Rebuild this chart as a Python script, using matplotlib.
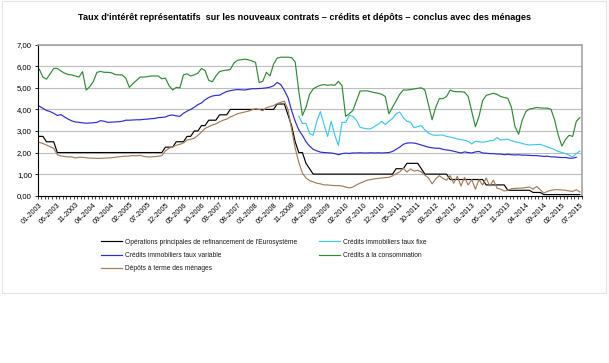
import numpy as np
import matplotlib
matplotlib.use("Agg")
import matplotlib.pyplot as plt
from matplotlib.patches import Rectangle

plt.rcParams['font.family'] = ['Liberation Sans', 'DejaVu Sans']

nan = np.nan

# Monthly categories 01-2003 .. 07-2015
months = [f"{m:02d}-{y}" for y in range(2003, 2016) for m in range(1, 13)][:151]
tick_labels = months[::5]

ecb_refi = [
    2.75, 2.75, 2.50, 2.50, 2.50, 2.00, 2.00, 2.00, 2.00, 2.00, 2.00, 2.00,
    2.00, 2.00, 2.00, 2.00, 2.00, 2.00, 2.00, 2.00, 2.00, 2.00, 2.00, 2.00,
    2.00, 2.00, 2.00, 2.00, 2.00, 2.00, 2.00, 2.00, 2.00, 2.00, 2.00, 2.25,
    2.25, 2.25, 2.50, 2.50, 2.50, 2.75, 2.75, 3.00, 3.00, 3.25, 3.25, 3.50,
    3.50, 3.50, 3.75, 3.75, 3.75, 4.00, 4.00, 4.00, 4.00, 4.00, 4.00, 4.00,
    4.00, 4.00, 4.00, 4.00, 4.00, 4.00, 4.25, 4.25, 4.25, 3.75, 3.25, 2.50,
    2.00, 2.00, 1.50, 1.25, 1.00, 1.00, 1.00, 1.00, 1.00, 1.00, 1.00, 1.00,
    1.00, 1.00, 1.00, 1.00, 1.00, 1.00, 1.00, 1.00, 1.00, 1.00, 1.00, 1.00,
    1.00, 1.00, 1.00, 1.25, 1.25, 1.25, 1.50, 1.50, 1.50, 1.50, 1.25, 1.00,
    1.00, 1.00, 1.00, 1.00, 1.00, 1.00, 0.75, 0.75, 0.75, 0.75, 0.75, 0.75,
    0.75, 0.75, 0.75, 0.75, 0.50, 0.50, 0.50, 0.50, 0.50, 0.50, 0.25, 0.25,
    0.25, 0.25, 0.25, 0.25, 0.25, 0.15, 0.15, 0.15, 0.05, 0.05, 0.05, 0.05,
    0.05, 0.05, 0.05, 0.05, 0.05, 0.05, 0.05,
]

immo_variable = [
    4.15, 4.05, 3.95, 3.90, 3.82, 3.72, 3.76, 3.65, 3.55, 3.47, 3.42, 3.40,
    3.38, 3.36, 3.37, 3.38, 3.40, 3.48, 3.45, 3.40, 3.41, 3.42, 3.43, 3.45,
    3.50, 3.50, 3.51, 3.52, 3.52, 3.54, 3.55, 3.57, 3.58, 3.62, 3.63, 3.65,
    3.72, 3.74, 3.70, 3.68, 3.82, 3.92, 4.00, 4.10, 4.22, 4.30, 4.45, 4.55,
    4.62, 4.65, 4.66, 4.75, 4.83, 4.87, 4.90, 4.92, 4.91, 4.90, 4.93, 4.96,
    4.96, 4.97, 4.98, 5.00, 5.03, 5.10, 5.25, 5.15, 4.88, 4.55, 3.95, 3.45,
    3.05, 2.80, 2.50, 2.30, 2.15, 2.08, 2.02, 2.00, 1.99, 1.98, 1.95, 1.90,
    1.95, 1.97, 1.96, 1.98, 1.98, 1.99, 1.98, 1.98, 1.99, 1.98, 1.99, 1.98,
    1.99, 2.00, 2.05, 2.15, 2.25, 2.38, 2.44, 2.45, 2.44, 2.40, 2.35, 2.30,
    2.25, 2.22, 2.20, 2.20, 2.15, 2.12, 2.10, 2.06, 2.02, 1.98, 2.03, 2.00,
    1.98, 2.03, 2.05, 1.98, 1.97, 1.95, 1.95, 1.93, 1.93, 1.90, 1.92, 1.90,
    1.89, 1.90, 1.88, 1.88, 1.87, 1.86, 1.86, 1.84, 1.82, 1.83, 1.80, 1.80,
    1.78, 1.77, 1.77, 1.74, 1.74, 1.78, nan,
]

immo_fixe = [
    nan, nan, nan, nan, nan, nan, nan, nan, nan, nan, nan, nan,
    nan, nan, nan, nan, nan, nan, nan, nan, nan, nan, nan, nan,
    nan, nan, nan, nan, nan, nan, nan, nan, nan, nan, nan, nan,
    nan, nan, nan, nan, nan, nan, nan, nan, nan, nan, nan, nan,
    nan, nan, nan, nan, nan, nan, nan, nan, nan, nan, nan, nan,
    nan, nan, nan, nan, nan, nan, nan, nan, nan, nan, nan, nan,
    3.68, 3.35, 3.35, 2.88, 2.80, 3.45, 3.90, 3.30, 2.75, 3.45, 2.80, 2.33,
    3.40, 3.40, 3.72, 3.68, 3.50, 3.17, 3.13, 3.10, 3.10, 3.22, 3.30, 3.45,
    3.30, 3.45, 3.58, 3.80, 3.88, 3.62, 3.45, 3.40, 3.15, 3.20, 3.25, 3.05,
    2.90, 2.82, 2.80, 2.81, 2.81, 2.75, 2.72, 2.68, 2.63, 2.60, 2.57, 2.52,
    2.40, 2.52, 2.50, 2.48, 2.50, 2.55, 2.55, 2.70, 2.58, 2.60, 2.62, 2.55,
    2.50, 2.47, 2.42, 2.38, 2.35, 2.36, 2.37, 2.38, 2.32, 2.26, 2.20, 2.13,
    2.05, 2.00, 1.95, 1.88, 1.80, 1.95, 2.07,
]

consommation = [
    5.86, 5.50, 5.40, 5.65, 5.90, 5.90, 5.78, 5.68, 5.62, 5.60, 5.55, 5.50,
    5.75, 4.90, 5.05, 5.30, 5.72, 5.76, 5.72, 5.72, 5.70, 5.62, 5.60, 5.60,
    5.45, 5.02, 5.20, 5.35, 5.50, 5.50, 5.52, 5.55, 5.55, 5.55, 5.42, 5.45,
    5.10, 4.90, 5.02, 5.00, 5.60, 5.65, 5.55, 5.60, 5.68, 5.90, 5.80, 5.35,
    5.28, 5.55, 5.75, 5.80, 5.82, 5.85, 6.15, 6.28, 6.30, 6.33, 6.30, 6.25,
    6.18, 5.25, 5.30, 5.72, 5.55, 6.10, 6.38, 6.42, 6.42, 6.42, 6.40, 6.20,
    4.85, 3.72, 4.10, 4.70, 4.95, 5.05, 5.12, 5.15, 5.12, 5.14, 5.12, 5.30,
    5.10, 3.68, 3.80, 3.95, 4.40, 4.85, 4.86, 4.86, 4.82, 4.78, 4.75, 4.70,
    4.60, 3.80, 4.10, 4.40, 4.70, 4.90, 4.90, 4.92, 4.95, 4.98, 5.00, 4.90,
    4.20, 3.52, 4.10, 4.50, 4.50, 4.60, 4.90, 4.83, 4.82, 4.82, 4.80, 4.60,
    3.90, 3.20, 3.67, 4.40, 4.65, 4.70, 4.75, 4.70, 4.60, 4.55, 4.52, 4.10,
    3.20, 2.85, 3.50, 3.90, 4.02, 4.05, 4.09, 4.07, 4.06, 4.06, 4.00, 3.50,
    2.80, 2.30, 2.60, 2.80, 2.75, 3.45, 3.62,
]

depots_terme = [
    2.47, 2.42, 2.35, 2.27, 2.20, 1.90, 1.84, 1.82, 1.80, 1.80, 1.75, 1.78,
    1.78, 1.76, 1.74, 1.74, 1.73, 1.73, 1.74, 1.75, 1.76, 1.78, 1.80, 1.82,
    1.83, 1.84, 1.86, 1.85, 1.87, 1.82, 1.80, 1.80, 1.81, 1.83, 1.86, 2.08,
    2.20, 2.26, 2.34, 2.38, 2.45, 2.58, 2.62, 2.66, 2.80, 2.95, 3.12, 3.20,
    3.28, 3.33, 3.42, 3.50, 3.55, 3.65, 3.72, 3.80, 3.84, 3.88, 3.92, 3.98,
    4.03, 4.00, 3.94, 4.08, 4.13, 4.18, 4.27, 4.33, 4.38, 4.00, 3.10, 2.20,
    1.55, 1.05, 0.82, 0.70, 0.64, 0.58, 0.55, 0.50, 0.50, 0.48, 0.47, 0.47,
    0.45, 0.40, 0.36, 0.40, 0.50, 0.58, 0.65, 0.72, 0.75, 0.78, 0.80, 0.82,
    0.84, 0.85, 0.92, 1.02, 1.10, 1.27, 1.10, 1.24, 1.14, 1.18, 1.10, 0.95,
    0.82, 0.55, 0.78, 0.93, 0.80, 0.72, 0.93, 0.58, 0.90, 0.45, 0.85, 0.50,
    0.75, 0.30, 0.74, 0.50, 0.82, 0.45, 0.72, 0.35, 0.30, 0.22, 0.25, 0.32,
    0.34, 0.35, 0.35, 0.38, 0.40, 0.30, 0.43, 0.28, 0.12, 0.20, 0.25, 0.28,
    0.28, 0.27, 0.25, 0.22, 0.20, 0.28, 0.17,
]

series = [
    ("Opérations principales de refinancement de l'Eurosystème", ecb_refi, "#000000"),
    ("Crédits immobiliers taux variable", immo_variable, "#2b2bd6"),
    ("Dépôts à terme des ménages", depots_terme, "#a47c5a"),
    ("Crédits immobiliers taux fixe", immo_fixe, "#3cc8ee"),
    ("Crédits à la consommation", consommation, "#2e8b35"),
]

W, H = 609, 363
fig = plt.figure(figsize=(W / 100, H / 100), dpi=100)
fig.patch.set_facecolor("white")

# chart area frame (very light)
fig.patches.append(Rectangle((2 / W, 1 - 293 / H), (606 - 2) / W, 292 / H,
                             transform=fig.transFigure, fill=False,
                             edgecolor="#e4e4e4", linewidth=0.8))

ax = fig.add_axes([37.5 / W, 1 - 195.7 / H, (581.7 - 37.5) / W, (195.7 - 44.7) / H])

x = np.arange(len(months))
for label, vals, col in series:
    ax.plot(x, vals, color=col, linewidth=0.85, label=label)

ax.set_xlim(-0.5, len(months) - 0.5)
ax.set_ylim(0, 7)
ax.set_yticks(np.arange(0, 8, 1))
ax.set_yticklabels([f"{v:.2f}".replace(".", ",") for v in range(0, 8)], fontsize=5.6)
ax.yaxis.grid(True, color="#bdbdbd", linewidth=0.8)
ax.set_axisbelow(True)

ax.set_xticks(x[::5])
ax.set_xticklabels(tick_labels, rotation=45, ha="right", rotation_mode="anchor", fontsize=5.2)
ax.set_xticks(np.arange(-0.5, len(months), 1), minor=True)
ax.tick_params(axis="x", which="major", length=0, pad=4)
ax.tick_params(axis="x", which="minor", length=2, width=0.5, color="#000000")
ax.tick_params(axis="y", length=2, width=0.6, pad=2)

for s in ["left", "bottom"]:
    ax.spines[s].set_color("#000000")
    ax.spines[s].set_linewidth(0.8)
for s in ["top", "right"]:
    ax.spines[s].set_color("#a6a6a6")
    ax.spines[s].set_linewidth(1.2)

fig.text(0.5, 1 - 18 / H,
         "Taux d'intérêt représentatifs  sur les nouveaux contrats \u2013 crédits et dépôts \u2013 conclus avec des ménages",
         ha="center", va="center", fontsize=6.6, color="#000000", fontweight="bold")

leg = fig.legend(loc="upper left", bbox_to_anchor=(96 / W, 1 - 234 / H), ncol=2,
                 frameon=False, fontsize=4.8, handlelength=3.2, handletextpad=0.45,
                 columnspacing=3.3, labelspacing=0.95, borderpad=0.2)
for t in leg.get_texts():
    t.set_color("#1a1a1a")

fig.savefig("out.png", dpi=100, facecolor="white")
